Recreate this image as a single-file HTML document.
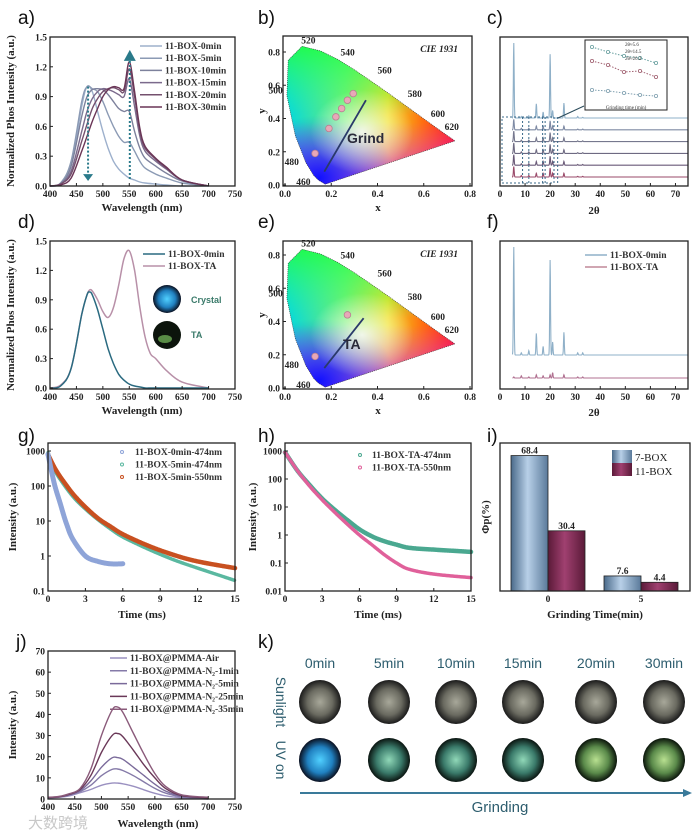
<!DOCTYPE html>
<html><head><meta charset="utf-8"><style>
html,body{margin:0;padding:0;background:#fff;}
svg{display:block;font-family:"Liberation Serif",serif;}
.tk{font-size:9.5px;font-weight:bold;fill:#222;}
.ttl{font-size:11px;font-weight:bold;fill:#222;}
.pl{font-family:"Liberation Sans",sans-serif;font-size:19px;fill:#111;}
.lg{font-size:9.5px;font-weight:bold;fill:#333;}
.ks{font-family:"Liberation Sans",sans-serif;font-size:14px;fill:#2d5d6e;}
</style></head><body>
<svg id="fig" width="700" height="839" viewBox="0 0 700 839" xmlns="http://www.w3.org/2000/svg">
<defs>
<linearGradient id="cieBase" x1="0" y1="0" x2="1" y2="0">
<stop offset="0" stop-color="#00d8e0"/><stop offset="0.35" stop-color="#70f070"/><stop offset="0.6" stop-color="#f0e020"/><stop offset="0.8" stop-color="#ff7010"/><stop offset="1" stop-color="#ff1020"/></linearGradient>
<linearGradient id="cieTop" x1="0" y1="0" x2="0" y2="1">
<stop offset="0" stop-color="#20ff40" stop-opacity="0.9"/><stop offset="0.5" stop-color="#40ff80" stop-opacity="0"/></linearGradient>
<linearGradient id="cieBot" x1="0" y1="1" x2="0" y2="0">
<stop offset="0" stop-color="#d020e0" stop-opacity="0.95"/><stop offset="0.45" stop-color="#e040e0" stop-opacity="0"/></linearGradient>
<radialGradient id="cieBlue" cx="0.2" cy="0.95" r="0.45"><stop offset="0" stop-color="#1010ff"/><stop offset="1" stop-color="#2050ff" stop-opacity="0"/></radialGradient>
<radialGradient id="cieWhite" cx="0.45" cy="0.62" r="0.3"><stop offset="0" stop-color="#fff" stop-opacity="0.85"/><stop offset="1" stop-color="#fff" stop-opacity="0"/></radialGradient>
<linearGradient id="barBlue" x1="0" y1="0" x2="1" y2="0"><stop offset="0" stop-color="#4a6a8a"/><stop offset="0.45" stop-color="#b8d0e8"/><stop offset="1" stop-color="#5a7a9a"/></linearGradient>
<linearGradient id="barRed" x1="0" y1="0" x2="1" y2="0"><stop offset="0" stop-color="#5a1a38"/><stop offset="0.45" stop-color="#a04070"/><stop offset="1" stop-color="#5a1a38"/></linearGradient>
<radialGradient id="sun" cx="0.5" cy="0.5" r="0.5"><stop offset="0" stop-color="#a8a89a"/><stop offset="0.6" stop-color="#6a6a60"/><stop offset="1" stop-color="#1a1a1a"/></radialGradient>
<radialGradient id="uv0" cx="0.5" cy="0.5" r="0.5"><stop offset="0" stop-color="#50d0ff"/><stop offset="0.6" stop-color="#2080c0"/><stop offset="1" stop-color="#0a1020"/></radialGradient>
<radialGradient id="uvA" cx="0.5" cy="0.5" r="0.5"><stop offset="0" stop-color="#90d8b8"/><stop offset="0.6" stop-color="#3a7a6a"/><stop offset="1" stop-color="#0a1410"/></radialGradient>
<radialGradient id="uvB" cx="0.5" cy="0.5" r="0.5"><stop offset="0" stop-color="#b8e090"/><stop offset="0.6" stop-color="#5a8a4a"/><stop offset="1" stop-color="#0a140a"/></radialGradient>
</defs>
</svg>
<script>
// ---------- DATA ----------
const aWl=[400,420,440,460,470,480,490,500,510,520,530,540,550,560,570,580,600,620,650,700];
const aNames=['11-BOX-0min','11-BOX-5min','11-BOX-10min','11-BOX-15min','11-BOX-20min','11-BOX-30min'];
const a0=[0,0.02,0.2,0.8,1.0,0.95,0.75,0.55,0.38,0.25,0.17,0.12,0.08,0.06,0.04,0.03,0.02,0.01,0,0];
const a5=[0,0.03,0.25,0.85,1.0,0.98,0.95,0.85,0.72,0.6,0.5,0.44,0.44,0.35,0.25,0.18,0.12,0.08,0.03,0];
const a10=[0,0.02,0.2,0.7,0.9,0.97,0.98,0.97,0.92,0.85,0.78,0.75,0.75,0.55,0.38,0.28,0.2,0.13,0.05,0];
const a15=[0,0.02,0.15,0.55,0.75,0.88,0.95,0.98,0.97,0.95,0.92,0.9,1.08,0.8,0.5,0.35,0.25,0.17,0.06,0];
const a20=[0,0.02,0.12,0.45,0.62,0.78,0.88,0.95,0.98,0.99,0.97,0.95,1.18,0.9,0.55,0.38,0.27,0.18,0.06,0];
const a30=[0,0.01,0.08,0.35,0.5,0.65,0.78,0.9,0.97,1.0,0.99,0.98,1.25,0.95,0.58,0.4,0.28,0.19,0.06,0];
const wlTicks=[400,450,500,550,600,650,700,750];
const intTicks=[0,0.3,0.6,0.9,1.2,1.5];
const intLabels=['0.0','0.3','0.6','0.9','1.2','1.5'];
const cieTicks=[0,0.2,0.4,0.6,0.8];
const cieLabels=['0.0','0.2','0.4','0.6','0.8'];
const locusX=[0.174,0.144,0.124,0.091,0.045,0.008,0.014,0.074,0.155,0.230,0.302,0.373,0.444,0.512,0.627,0.691,0.735];
const locusY=[0.005,0.030,0.058,0.133,0.295,0.538,0.750,0.834,0.806,0.754,0.692,0.624,0.555,0.487,0.372,0.308,0.265];
const cieLblText=['520','540','560','580','600','620','500','480','460'];
const cieLblX=[0.07,0.24,0.40,0.53,0.63,0.69,-0.01,0.06,0.11];
const cieLblY=[0.85,0.78,0.67,0.53,0.41,0.33,0.55,0.12,0.0];
const bPtsX=[0.13,0.19,0.22,0.245,0.27,0.295];
const bPtsY=[0.19,0.34,0.41,0.46,0.51,0.55];
const ePtsX=[0.13,0.27];
const ePtsY=[0.19,0.44];
const xrdPeaks=[5.5,8.5,11.5,14.5,17.2,20,21,25.5,31,33];
const cTop=[1.0,0.02,0.03,0.19,0.08,0.85,0.1,0.2,0.02,0.01];
const cLow=[0.14,0.02,0.02,0.05,0.05,0.12,0.05,0.05,0.01,0.01];
const cOffsets=[0,1,2,3,4,5];
const xrdTicks=[0,10,20,30,40,50,60,70];
const fTop=[1.0,0.02,0.04,0.2,0.08,0.88,0.12,0.21,0.02,0.02];
const fTA=[0.01,0.02,0.01,0.03,0.02,0.03,0.05,0.03,0.01,0.01];
const dWl=[400,420,440,460,470,475,480,490,500,510,520,530,540,550,560,570,580,590,600,620,650,700];
const d0=[0,0.02,0.2,0.75,0.95,0.98,0.95,0.8,0.6,0.4,0.25,0.14,0.08,0.04,0.02,0.01,0,0,0,0,0,0];
const dTA=[0,0.03,0.2,0.75,0.95,1.0,0.99,0.9,0.78,0.72,0.82,1.05,1.32,1.4,1.2,0.82,0.52,0.35,0.3,0.18,0.06,0];
const gT=[0,0.5,1,2,3,4,5,6,8,10,12,15];
const g0=[900,300,150,50,22,11,6,3.5,1.6,0.8,0.45,0.2];
const gT5=[0,0.5,1,1.5,2,3,4,5,6];
const g5=[800,120,30,8,3,1.0,0.7,0.6,0.6];
const g550=[800,350,180,60,25,12,7,4.2,2,1.1,0.7,0.45];
const timeTicks=[0,3,6,9,12,15];
const gLogTicks=[0.1,1,10,100,1000];
const gLogLabels=['0.1','1','10','100','1000'];
const hT=[0,1,2,3,4,5,6,7,8,9,10,12,15];
const h474=[900,200,60,20,8,3.5,1.6,0.9,0.6,0.45,0.35,0.3,0.25];
const h550=[900,200,55,18,6.5,2.5,1.0,0.45,0.2,0.1,0.06,0.04,0.03];
const hLogTicks=[0.01,0.1,1,10,100,1000];
const hLogLabels=['0.01','0.1','1','10','100','1000'];
const iCats=['0','5'];
const i7=[68.4,7.6];
const i11=[30.4,4.4];
const jWl=[400,420,440,460,480,500,520,530,540,560,580,600,620,650,700];
const jNames=['11-BOX@PMMA-Air','11-BOX@PMMA-N₂-1min','11-BOX@PMMA-N₂-5min','11-BOX@PMMA-N₂-25min','11-BOX@PMMA-N₂-35min'];
const jAir=[0.5,0.8,1.5,3,4.5,6.5,7.5,7.5,7.2,6,4.3,2.7,1.5,0.5,0];
const j1=[0.6,1,2,3.5,6.5,11,14,14.2,13.5,11,8,5,2.8,1,0];
const j5=[0.7,1,2,4,8.5,15,19.5,19.6,18.8,15,11,7,3.8,1.3,0.2];
const j25=[0.8,1,2.2,4.5,11,22,30,31,29.5,23,16,10,5,1.6,0.5];
const j35=[0.8,1.2,2.5,5,14,30,42,43.5,41,31,21,12,6,2,0.8];
const jTicks=[0,10,20,30,40,50,60,70];
const kTimes=['0min','5min','10min','15min','20min','30min'];

// ---------- HELPERS ----------
const NS='http://www.w3.org/2000/svg';
const svg=document.getElementById('fig');
function mk(tag,attrs,parent){const e=document.createElementNS(NS,tag);for(const k in attrs)e.setAttribute(k,attrs[k]);(parent||svg).appendChild(e);return e;}
function tx(s,x,y,attrs){const e=mk('text',Object.assign({x:x,y:y},attrs||{}));e.textContent=s;return e;}
function lin(d0,d1,r0,r1){return v=>r0+(v-d0)/(d1-d0)*(r1-r0);}
function logS(d0,d1,r0,r1){return v=>r0+(Math.log10(v)-Math.log10(d0))/(Math.log10(d1)-Math.log10(d0))*(r1-r0);}
function smooth(p){let d='M'+p[0][0].toFixed(1)+','+p[0][1].toFixed(1);for(let i=0;i<p.length-1;i++){const p0=p[i-1]||p[i],p1=p[i],p2=p[i+1],p3=p[i+2]||p2;d+=' C'+(p1[0]+(p2[0]-p0[0])/6).toFixed(1)+','+(p1[1]+(p2[1]-p0[1])/6).toFixed(1)+' '+(p2[0]-(p3[0]-p1[0])/6).toFixed(1)+','+(p2[1]-(p3[1]-p1[1])/6).toFixed(1)+' '+p2[0].toFixed(1)+','+p2[1].toFixed(1);}return d;}
function frame(x0,y0,x1,y1,name){const r=mk('rect',{x:x0,y:y0,width:x1-x0,height:y1-y0,fill:'none',stroke:'#222','stroke-width':1.3});

}
function xTicks(vals,labels,sc,y,name){vals.forEach((v,i)=>{const x=sc(v);mk('line',{x1:x,x2:x,y1:y,y2:y-3,stroke:'#222'});const t=tx(labels[i],x,y+11,{class:'tk','text-anchor':'middle'});

});}
function yTicks(vals,labels,sc,x,name){vals.forEach((v,i)=>{const y=sc(v);mk('line',{x1:x,x2:x+3,y1:y,y2:y,stroke:'#222'});const t=tx(labels[i],x-3,y+3.5,{class:'tk','text-anchor':'end'});

});}
function curve(xs,ys,sx,sy,color,w,name){const p=mk('path',{d:smooth(xs.map((x,i)=>[sx(x),sy(ys[i])])),fill:'none',stroke:color,'stroke-width':w});

return p;}
function panelLabel(s,x,y){const t=tx(s,x,y,{class:'pl'});

}
function yTitle(s,x,y){const t=tx(s,x,y,{class:'ttl','text-anchor':'middle',transform:'rotate(-90 '+x+' '+y+')'});

return t;}
function xTitle(s,x,y){const t=tx(s,x,y,{class:'ttl','text-anchor':'middle'});

return t;}
function legendLine(x,y,color,label,w){const l=mk('line',{x1:x,x2:x+22,y1:y-3,y2:y-3,stroke:color,'stroke-width':w||1.5});


const t=tx(label,x+25,y,{class:'lg'});

}

// ---------- PANEL A ----------
panelLabel('a)',18,24);
const axA=lin(400,750,50,235), ayA=lin(0,1.5,186,37);
const aCols=['#9db0cc','#8b9ab4','#7d819c','#7b6a8c','#74506e','#6a3556'];
[a0,a5,a10,a15,a20,a30].forEach((s,i)=>curve(aWl,s,axA,ayA,aCols[i],1.4,'curve-'+aNames[i].toLowerCase()));
frame(50,37,235,186,'plot-area-a');
xTicks(wlTicks,wlTicks.map(String),axA,186,'x-tick-a');
yTicks(intTicks,intLabels,ayA,50,'y-tick-a');
aNames.forEach((n,i)=>legendLine(140,49+i*12.2,aCols[i],n));
mk('line',{x1:axA(472),x2:axA(472),y1:ayA(1.0),y2:ayA(0.1),stroke:'#2a7a8a','stroke-width':2,'stroke-dasharray':'2 2'});
mk('path',{d:`M${axA(472)-5},${ayA(0.12)} L${axA(472)+5},${ayA(0.12)} L${axA(472)},${ayA(0.05)} Z`,fill:'#2a7a8a'});
mk('line',{x1:axA(551),x2:axA(551),y1:ayA(0.07),y2:ayA(1.26),stroke:'#2a7a8a','stroke-width':2,'stroke-dasharray':'2 2'});
mk('path',{d:`M${axA(551)-6},${ayA(1.26)} L${axA(551)+6},${ayA(1.26)} L${axA(551)},${ayA(1.37)} Z`,fill:'#2a7a8a'});
xTitle('Wavelength (nm)',142,211);
yTitle('Normalized Phos Intensity (a.u.)',14,111);

// ---------- CIE PANELS ----------
function ciePanel(y0,y1,ptsX,ptsY,lineFrom,lineTo,label,lx,ly,tag){
  const sx=lin(0,0.8,285,470), sy=lin(0,0.8,y1-1,y1-1-133);
  const id='clip'+tag;
  const cp=mk('clipPath',{id:id});
  const pd='M'+locusX.map((x,i)=>sx(x).toFixed(1)+','+sy(locusY[i]).toFixed(1)).join(' L')+' Z';
  mk('path',{d:pd},cp);
  const g=mk('g',{'clip-path':'url(#'+id+')'});
  
  
  const bx=sx(0),by=sy(0.84),bw=sx(0.74)-sx(0),bh=sy(0)-sy(0.84);
  ['cieBase','cieTop','cieBot','cieBlue','cieWhite'].forEach(f=>mk('rect',{x:bx,y:by,width:bw,height:bh,fill:'url(#'+f+')'},g));
  mk('path',{d:pd,fill:'none',stroke:'#333','stroke-width':0.6,'stroke-dasharray':'1 1'});
  frame(283,y0,472,y1,'plot-area-'+tag);
  xTicks(cieTicks,cieLabels,sx,y1,'x-tick-'+tag);
  yTicks(cieTicks,cieLabels,sy,283,'y-tick-'+tag);
  cieLblText.forEach((s,i)=>{const t=tx(s,sx(cieLblX[i]),sy(cieLblY[i]),{class:'tk',fill:'#2a2a8a','font-size':'8.5px','text-anchor':i>=6?'end':'start'});
    
    });
  const cap=tx('CIE 1931',458,y0+16,{class:'tk','font-style':'italic','font-size':'11px','text-anchor':'end'});
  
  
  const ln=mk('line',{x1:sx(lineFrom[0]),y1:sy(lineFrom[1]),x2:sx(lineTo[0]),y2:sy(lineTo[1]),stroke:'#2a3a6a','stroke-width':1.8});
  
  
  ptsX.forEach((x,i)=>{const c=mk('circle',{cx:sx(x),cy:sy(ptsY[i]),r:3.3,fill:'#e8a8b8',stroke:'#b88090','stroke-width':0.8});
    
    });
  const gl=tx(label,lx,ly,{'font-family':'Liberation Sans,sans-serif','font-size':'14px','font-weight':'bold',fill:'#2a2a3a'});
  
  
  yTitle('y',265,(y0+y1)/2);
  xTitle('x',378,y1+25);
}
panelLabel('b)',258,24);
ciePanel(36,186,bPtsX,bPtsY,[0.17,0.08],[0.35,0.51],'Grind',347,143,'b');
panelLabel('e)',258,228);
ciePanel(241,389,ePtsX,ePtsY,[0.17,0.12],[0.34,0.42],'TA',343,349,'e');

// ---------- XRD PANELS ----------
const axC=lin(0,75,500,688);
function xrdPath(h,base,scale,start){let d='';for(let t=start;t<=75;t+=0.1){let v=0;xrdPeaks.forEach((p,i)=>{v+=h[i]*Math.exp(-Math.pow((t-p)/0.22,2));});d+=(d?' L':'M')+axC(t).toFixed(1)+','+(base-v*scale).toFixed(1);}return d;}
panelLabel('c)',487,24);
const cCols=['#8fb0c8','#7e8aa4','#76788e','#6e6a82','#6a5a78','#9a4a6a'];
cOffsets.forEach((o,i)=>{const base=118+o*11.8;const p=mk('path',{d:xrdPath(i===0?cTop:cLow,base,75,4.8),fill:'none',stroke:cCols[i],'stroke-width':1.1});
  
  });
mk('rect',{x:502,y:117,width:52,height:66,fill:'none',stroke:'#3a6a8a','stroke-width':1,'stroke-dasharray':'2 2'});
[9,11.5,17,18,23].forEach(v=>mk('line',{x1:axC(v),x2:axC(v),y1:117,y2:183,stroke:'#3a6a8a','stroke-dasharray':'2 2'}));
mk('line',{x1:558,y1:118,x2:584,y2:106,stroke:'#2a4a5a','stroke-width':1});
const inset=mk('rect',{x:585,y:40,width:82,height:70,fill:'#fff',stroke:'#222','stroke-width':1});


[[47,52,56,58,63],[61,65,72,71,77],[90,91,93,95,96]].forEach((row,r)=>{const col=['#6aa0a0','#a06070','#80a0b0'][r];const pts=row.map((y,i)=>[592+i*16,y]);
  mk('polyline',{points:pts.map(p=>p.join(',')).join(' '),fill:'none',stroke:col,'stroke-dasharray':'1.5 1.5'});
  pts.forEach(p=>mk('circle',{cx:p[0],cy:p[1],r:1.6,fill:'#fff',stroke:col,'stroke-width':0.8}));});
['2θ≈5.6','2θ≈14.5','2θ≈20.2'].forEach((s,i)=>tx(s,625,46+i*7,{'font-size':'5px',fill:'#333'}));
tx('Grinding time (min)',626,109,{'font-size':'5px',fill:'#333','text-anchor':'middle'});
frame(500,37,688,186,'plot-area-c');
xTicks(xrdTicks,xrdTicks.map(String),axC,186,'x-tick-c');
xTitle('2θ',594,214);

panelLabel('f)',487,228);
const fTopP=mk('path',{d:xrdPath(fTop,355,108,5),fill:'none',stroke:'#8fb0c8','stroke-width':1.1});


const fTaP=mk('path',{d:xrdPath(fTA,378,108,5),fill:'none',stroke:'#b07090','stroke-width':1.1});


frame(500,241,688,389,'plot-area-f');
xTicks(xrdTicks,xrdTicks.map(String),axC,389,'x-tick-f');
legendLine(585,258,'#8fb0c8','11-BOX-0min');
legendLine(585,270,'#c08898','11-BOX-TA');
xTitle('2θ',594,416);

// ---------- PANEL D ----------
panelLabel('d)',18,228);
const axD=lin(400,750,50,235), ayD=lin(0,1.5,388,241);
curve(dWl,dTA,axD,ayD,'#b890a8',1.5,'curve-11-box-ta');
curve(dWl,d0,axD,ayD,'#2a6a80',1.5,'curve-11-box-0min');
frame(50,241,235,389,'plot-area-d');
xTicks(wlTicks,wlTicks.map(String),axD,389,'x-tick-d');
yTicks(intTicks,intLabels,ayD,50,'y-tick-d');
legendLine(143,257,'#2a6a80','11-BOX-0min');
legendLine(143,269,'#b890a8','11-BOX-TA');
const cr=mk('circle',{cx:167,cy:299,r:14,fill:'url(#uv0)'});


const ta=mk('circle',{cx:167,cy:335,r:14,fill:'#0c140c'});


mk('ellipse',{cx:165,cy:339,rx:7,ry:4,fill:'#7ac060',opacity:0.7});
tx('Crystal',191,303,{'font-family':'Liberation Sans,sans-serif','font-size':'9px','font-weight':'bold',fill:'#3a7a6a'});
tx('TA',191,338,{'font-family':'Liberation Sans,sans-serif','font-size':'9px','font-weight':'bold',fill:'#3a7a6a'});
xTitle('Wavelength (nm)',142,414);
yTitle('Normalized Phos Intensity (a.u.)',14,315);

// ---------- PANEL G ----------
panelLabel('g)',18,442);
const axG=lin(0,15,48,235), ayG=logS(0.1,1000,591,451);
function decay(ts,vs,sx,sy,color,name,w){const p=mk('path',{d:smooth(ts.map((t,i)=>[sx(t),sy(vs[i])])),fill:'none',stroke:color,'stroke-width':w,'stroke-dasharray':'1.2 0.8','stroke-linecap':'round'});
  
  }
decay(gT,g0,axG,ayG,'#5ab8a0','series-0min-474nm',3.5);
decay(gT,g550,axG,ayG,'#c85020','series-5min-550nm',4.5);
decay(gT5,g5,axG,ayG,'#8ea4d8','series-5min-474nm',5);
frame(48,443,235,591,'plot-area-g');
xTicks(timeTicks,timeTicks.map(String),axG,591,'x-tick-g');
yTicks(gLogTicks,gLogLabels,ayG,48,'y-tick-g');
[['11-BOX-0min-474nm','#8ea4d8'],['11-BOX-5min-474nm','#5ab8a0'],['11-BOX-5min-550nm','#c85020']].forEach((e,i)=>{const c=mk('circle',{cx:122,cy:452+i*12.5,r:1.5,fill:'none',stroke:e[1]});
  
  
  const t=tx(e[0],135,455+i*12.5,{class:'lg'});
  
  });
xTitle('Time (ms)',142,618);
yTitle('Intensity (a.u.)',16,517);

// ---------- PANEL H ----------
panelLabel('h)',258,442);
const axH=lin(0,15,285,471), ayH=logS(0.01,1000,591,451);
decay(hT,h474,axH,ayH,'#4aa890','series-ta-474nm',4.5);
decay(hT,h550,axH,ayH,'#e0609a','series-ta-550nm',3.5);
frame(285,443,471,591,'plot-area-h');
xTicks(timeTicks,timeTicks.map(String),axH,591,'x-tick-h');
yTicks(hLogTicks,hLogLabels,ayH,285,'y-tick-h');
[['11-BOX-TA-474nm','#4aa890'],['11-BOX-TA-550nm','#e0609a']].forEach((e,i)=>{const c=mk('circle',{cx:360,cy:455+i*12.5,r:1.5,fill:'none',stroke:e[1]});
  
  
  const t=tx(e[0],372,458+i*12.5,{class:'lg'});
  
  });
xTitle('Time (ms)',378,618);
yTitle('Intensity (a.u.)',256,517);

// ---------- PANEL I ----------
panelLabel('i)',487,442);
const ayI=lin(0,75,591,442.5);
const axI=lin(0,1,548,641);
iCats.forEach((c,i)=>{const cx=axI(i);
  [[i7[i],cx-37,'url(#barBlue)','bar-7-box-'+c],[i11[i],cx,'url(#barRed)','bar-11-box-'+c]].forEach(b=>{const r=mk('rect',{x:b[1],y:ayI(b[0]),width:37,height:591-ayI(b[0]),fill:b[2],stroke:'#222','stroke-width':0.8});
    
    
    const t=tx(b[0].toFixed(1),b[1]+18.5,ayI(b[0])-2,{class:'tk','text-anchor':'middle'});
    
    });});
frame(500,443,690,591,'plot-area-i');
xTicks([0,1],iCats,axI,591,'x-tick-i');
const lb1=mk('rect',{x:612,y:450,width:20,height:13,fill:'url(#barBlue)'});


const lb2=mk('rect',{x:612,y:463,width:20,height:13,fill:'url(#barRed)'});


tx('7-BOX',635,461,{'font-size':'11px',fill:'#222'});
tx('11-BOX',635,475,{'font-size':'11px',fill:'#222'});
xTitle('Grinding Time(min)',595,618);
yTitle('Φp(%)',489,517);

// ---------- PANEL J ----------
panelLabel('j)',16,648);
const axJ=lin(400,750,48,235), ayJ=lin(0,70,799,651);
const jCols=['#9a90c0','#857aa8','#7a6a9a','#6a3858','#8a5a7a'];
[jAir,j1,j5,j25,j35].forEach((s,i)=>curve(jWl,s,axJ,ayJ,jCols[i],1.4,'curve-j-'+i));
frame(48,651,235,799,'plot-area-j');
xTicks(wlTicks,wlTicks.map(String),axJ,799,'x-tick-j');
yTicks(jTicks,jTicks.map(String),ayJ,48,'y-tick-j');
jNames.forEach((n,i)=>{const l=mk('line',{x1:110,x2:127,y1:658+i*12.8,y2:658+i*12.8,stroke:jCols[i],'stroke-width':1.5});
  
  
  const t=tx(n,130,661+i*12.8,{class:'lg','font-size':'8px'});
  
  });
xTitle('Wavelength (nm)',158,827);
yTitle('Intensity (a.u.)',16,725);
const wm=tx('大数跨境',28,828,{'font-family':'Liberation Sans,Noto Sans CJK SC,sans-serif','font-size':'15px',fill:'#c8c8c8'});



// ---------- PANEL K ----------
panelLabel('k)',258,648);
const kX=[320,389,456,523,596,664];
const uvFills=['url(#uv0)','url(#uvA)','url(#uvA)','url(#uvA)','url(#uvB)','url(#uvB)'];
kTimes.forEach((s,i)=>{const t=tx(s,kX[i],668,{class:'ks','text-anchor':'middle'});
  
  
  const a=mk('ellipse',{cx:kX[i],cy:702,rx:21,ry:22,fill:'url(#sun)'});
  
  
  const b=mk('ellipse',{cx:kX[i],cy:760,rx:21,ry:22,fill:uvFills[i]});
  
  });
const sl=tx('Sunlight',276,702,{class:'ks',fill:'#6a9aaa','text-anchor':'middle',transform:'rotate(90 276 702)'});


const uv=tx('UV on',276,760,{class:'ks',fill:'#6a9aaa','text-anchor':'middle',transform:'rotate(90 276 760)'});


const ar=mk('line',{x1:300,y1:793,x2:684,y2:793,stroke:'#3a7a9a','stroke-width':2});


mk('path',{d:'M683,789 L692,793 L683,797 Z',fill:'#3a7a9a'});
const gr=tx('Grinding',500,812,{'font-family':'Liberation Sans,sans-serif','font-size':'15px',fill:'#2d5d6e','text-anchor':'middle'});


</script>
</body></html>
